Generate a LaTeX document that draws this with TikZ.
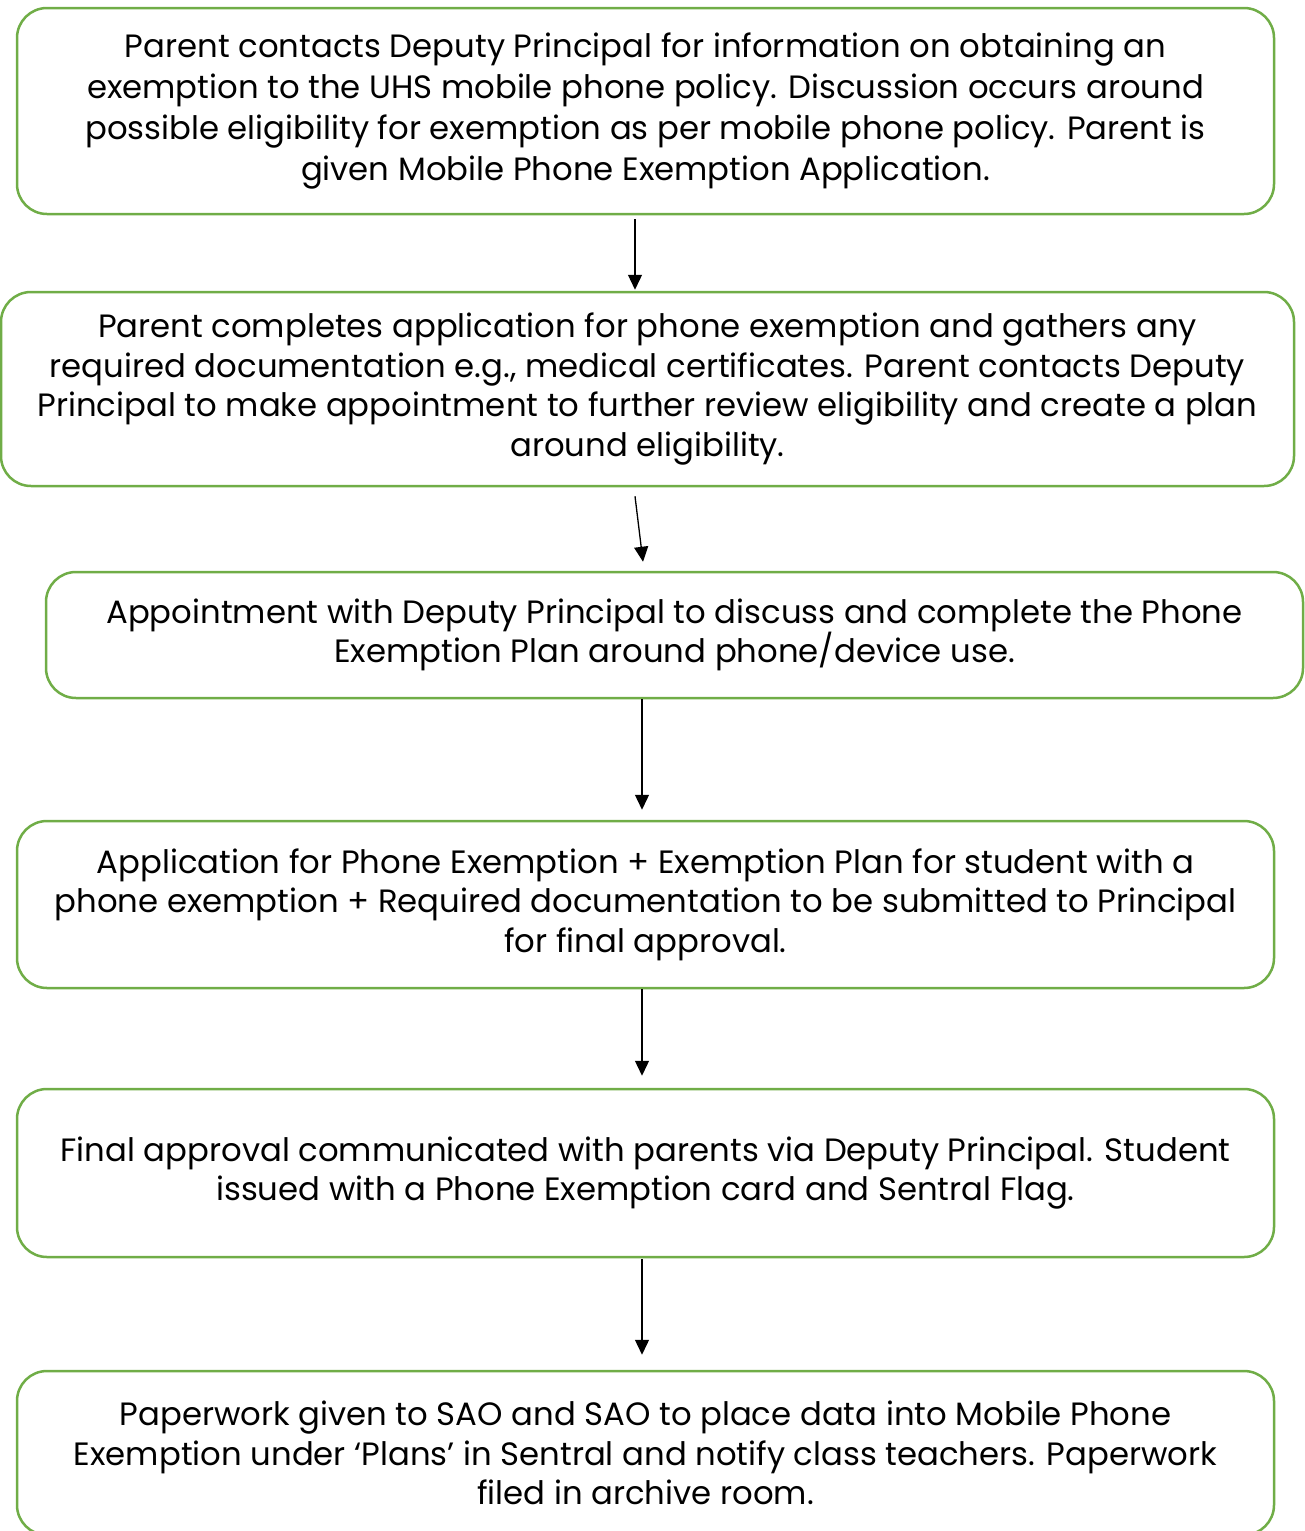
\documentclass[tikz,border=0pt]{standalone}
\usepackage{fontspec}
\setmainfont{Poppins}
\usetikzlibrary{arrows.meta}
\definecolor{boxgreen}{HTML}{70AD47}
\tikzset{
  flowbox/.style={draw=boxgreen, line width=2.5pt, rounded corners=30pt, align=center,
    inner sep=0pt, font=\fontsize{32.3}{39.5}\selectfont, text=black},
  arr/.style={line width=1.3pt, -{Triangle[length=15pt,width=14pt]}}
}
\begin{document}
\begin{tikzpicture}[x=1pt,y=1pt]
\useasboundingbox (0,0) rectangle (1305,-1531);
\node[flowbox, font=\fontsize{32.3}{41}\selectfont, minimum width=1257pt, minimum height=206pt] (b1) at (645.5,-111)
 {Parent contacts Deputy Principal for information on obtaining an\\
  exemption to the UHS mobile phone policy. Discussion occurs around\\
  possible eligibility for exemption as per mobile phone policy. Parent is\\
  given Mobile Phone Exemption Application.};
\node[flowbox, minimum width=1293pt, minimum height=194pt] (b2) at (647.5,-389)
 {Parent completes application for phone exemption and gathers any\\
  required documentation e.g., medical certificates. Parent contacts Deputy\\
  Principal to make appointment to further review eligibility and create a plan\\
  around eligibility.};
\node[flowbox, minimum width=1257pt, minimum height=126pt] (b3) at (674.5,-635)
 {Appointment with Deputy Principal to discuss and complete the Phone\\
  Exemption Plan around phone/device use.};
\node[flowbox, minimum width=1257pt, minimum height=167pt] (b4) at (645.5,-904.5)
 {Application for Phone Exemption + Exemption Plan for student with a\\
  phone exemption + Required documentation to be submitted to Principal\\
  for final approval.};
\node[flowbox, minimum width=1257pt, minimum height=168pt] (b5) at (645.5,-1173)
 {Final approval communicated with parents via Deputy Principal. Student\\
  issued with a Phone Exemption card and Sentral Flag.};
\node[flowbox, minimum width=1257pt, minimum height=164pt] (b6) at (645.5,-1453)
 {Paperwork given to SAO and SAO to place data into Mobile Phone\\
  Exemption under ‘Plans’ in Sentral and notify class teachers. Paperwork\\
  filed in archive room.};
\draw[arr] ([xshift=-10.5pt,yshift=-4pt]b1.south) -- ([xshift=-12.5pt,yshift=1pt]b2.north);
\draw[arr] ([xshift=-12.5pt,yshift=-9pt]b2.south) -- ([xshift=-31.5pt,yshift=9pt]b3.north);
\draw[arr] ([xshift=-32.5pt]b3.south) -- ([xshift=-3.5pt,yshift=10pt]b4.north);
\draw[arr] ([xshift=-3.5pt]b4.south) -- ([xshift=-3.5pt,yshift=12pt]b5.north);
\draw[arr] ([xshift=-3.5pt,yshift=-1pt]b5.south) -- ([xshift=-3.5pt,yshift=15pt]b6.north);
\end{tikzpicture}
\end{document}
